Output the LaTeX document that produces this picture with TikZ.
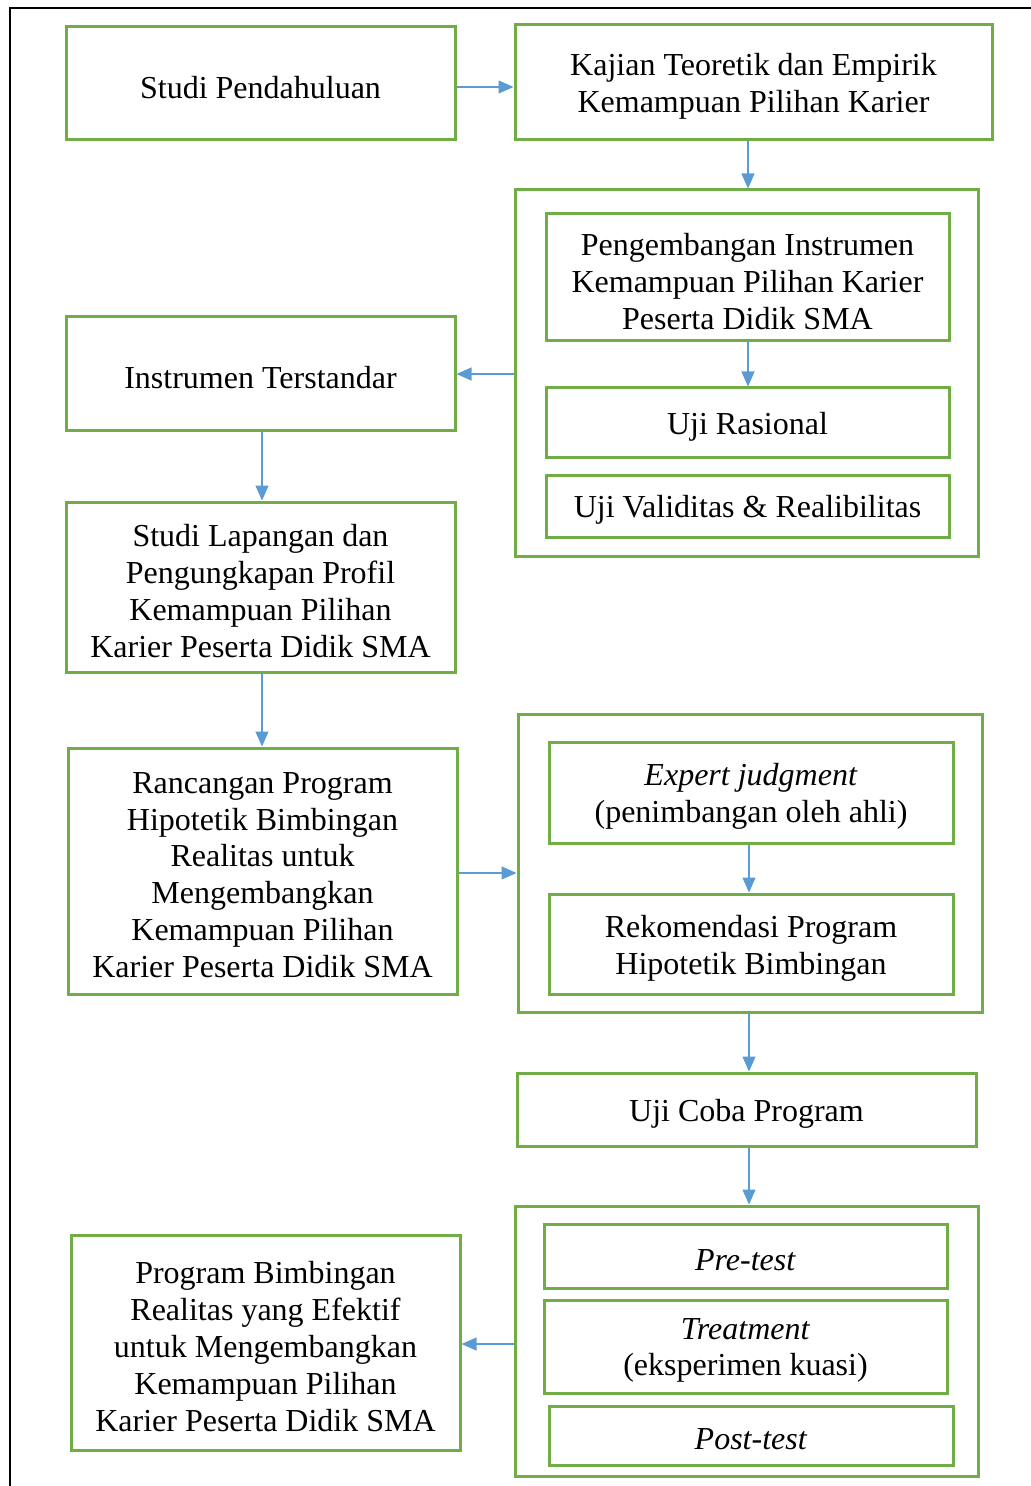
\documentclass[tikz,border=0pt]{standalone}
\usepackage{fontspec}
\setmainfont{Liberation Serif}
\usetikzlibrary{arrows.meta,fit}
\definecolor{boxgreen}{RGB}{112,173,71}
\definecolor{arrblue}{RGB}{91,155,213}
\begin{document}
\begin{tikzpicture}[x=.5pt,y=-.5pt,
  box/.style={draw=boxgreen,line width=1.5pt,inner sep=0pt},
  txt/.style={inner sep=0pt,align=center,yshift=-2pt,font=\fontsize{16}{18.4}\selectfont},
  arr/.style={draw=arrblue,line width=0.6pt,-{Triangle[length=7.5pt,width=6.5pt]}}]
\path[use as bounding box] (0,0) rectangle (1031,1486);
% frame
\draw[line width=0.8pt] (1031,8) -- (10,8) -- (10,1486);
% left column
\node[box,fit={(66,27) (455,140)}] (pendahuluan) {};
\node[txt] (pendahuluan-t) at (pendahuluan.center) {Studi Pendahuluan};
\node[box,fit={(66,317) (455,431)}] (terstandar) {};
\node[txt] (terstandar-t) at (terstandar.center) {Instrumen Terstandar};
\node[box,fit={(66,502) (455,672)}] (lapangan) {};
\node[txt] (lapangan-t) at (lapangan.center) {Studi Lapangan dan\\Pengungkapan Profil\\Kemampuan Pilihan\\Karier Peserta Didik SMA};
\node[box,fit={(68,748) (457,994)}] (rancangan) {};
\node[txt] (rancangan-t) at (rancangan.center) {Rancangan Program\\Hipotetik Bimbingan\\Realitas untuk\\Mengembangkan\\Kemampuan Pilihan\\Karier Peserta Didik SMA};
\node[box,fit={(71,1235) (460,1450)}] (efektif) {};
\node[txt] (efektif-t) at (efektif.center) {Program Bimbingan\\Realitas yang Efektif\\untuk Mengembangkan\\Kemampuan Pilihan\\Karier Peserta Didik SMA};
% right column
\node[box,fit={(515,25) (992,140)}] (kajian) {};
\node[txt] (kajian-t) at (kajian.center) {Kajian Teoretik dan Empirik\\Kemampuan Pilihan Karier};
\node[box,fit={(515,190) (978,556)}] (instrumen) {};
\node[box,fit={(546,214) (949,341)}] (pengembangan) {};
\node[txt] (pengembangan-t) at (pengembangan.center) {Pengembangan Instrumen\\Kemampuan Pilihan Karier\\Peserta Didik SMA};
\node[box,fit={(546,388) (949,457)}] (rasional) {};
\node[txt] (rasional-t) at (rasional.center) {Uji Rasional};
\node[box,fit={(546,475) (949,537)}] (validitas) {};
\node[txt] (validitas-t) at (validitas.center) {Uji Validitas \& Realibilitas};
\node[box,fit={(518,714) (982,1012)}] (penimbangan) {};
\node[box,fit={(549,742) (953,843)}] (expert) {};
\node[txt] (expert-t) at (expert.center) {\textit{Expert judgment}\\(penimbangan oleh ahli)};
\node[box,fit={(549,894) (953,994)}] (rekomendasi) {};
\node[txt] (rekomendasi-t) at (rekomendasi.center) {Rekomendasi Program\\Hipotetik Bimbingan};
\node[box,fit={(517,1073) (976,1146)}] (ujicoba) {};
\node[txt] (ujicoba-t) at (ujicoba.center) {Uji Coba Program};
\node[box,fit={(515,1206) (978,1476)}] (eksperimen) {};
\node[box,fit={(544,1224) (947,1288)}] (pretest) {};
\node[txt] (pretest-t) at (pretest.center) {\textit{Pre-test}};
\node[box,fit={(544,1300) (947,1393)}] (treatment) {};
\node[txt] (treatment-t) at (treatment.center) {\textit{Treatment}\\(eksperimen kuasi)};
\node[box,fit={(549,1406) (953,1465)}] (posttest) {};
\node[txt] (posttest-t) at (posttest.center) {\textit{Post-test}};
% connectors
\draw[arr] (pendahuluan.east |- 0,87) -- (kajian.west |- 0,87);
\draw[arr] (kajian.south -| 748,0) -- (instrumen.north -| 748,0);
\draw[arr] (pengembangan.south -| 748,0) -- (rasional.north -| 748,0);
\draw[arr] (instrumen.west |- 0,374) -- (terstandar.east |- 0,374);
\draw[arr] (terstandar.south -| 262,0) -- (lapangan.north -| 262,0);
\draw[arr] (lapangan.south -| 262,0) -- (rancangan.north -| 262,0);
\draw[arr] (rancangan.east |- 0,873) -- (penimbangan.west |- 0,873);
\draw[arr] (expert.south -| 749,0) -- (rekomendasi.north -| 749,0);
\draw[arr] (penimbangan.south -| 749,0) -- (ujicoba.north -| 749,0);
\draw[arr] (ujicoba.south -| 749,0) -- (eksperimen.north -| 749,0);
\draw[arr] (eksperimen.west |- 0,1344) -- (efektif.east |- 0,1344);
\end{tikzpicture}
\end{document}
